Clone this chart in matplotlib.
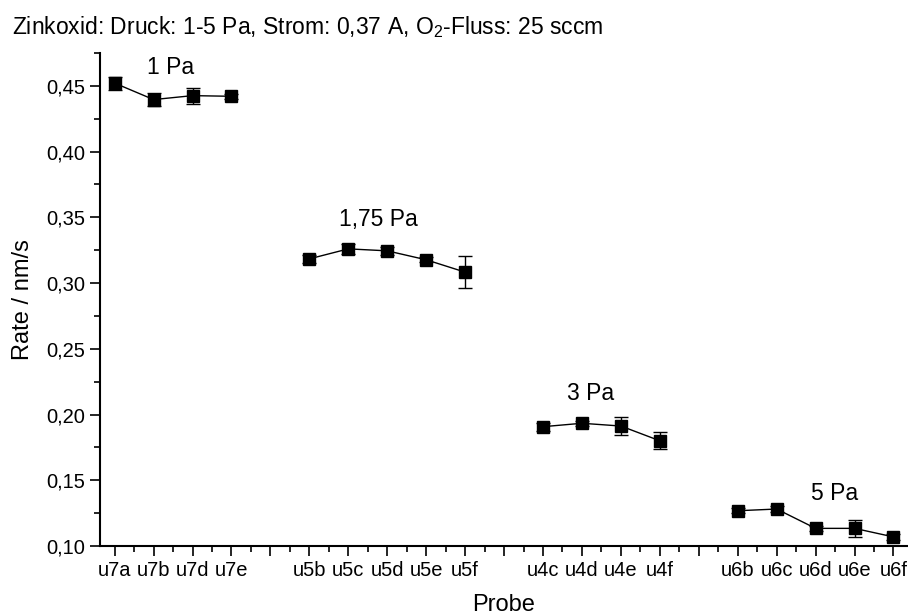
import matplotlib
matplotlib.use("Agg")
import matplotlib.pyplot as plt
from matplotlib.ticker import MultipleLocator, FuncFormatter

plt.rcParams['font.family'] = ['Liberation Sans', 'DejaVu Sans']
plt.rcParams['mathtext.fontset'] = 'custom'
plt.rcParams['mathtext.rm'] = 'Liberation Sans'

# sample names per pressure group (gaps between groups stay unlabeled)
probe_1pa = ["u7a", "u7b", "u7d", "u7e"]
probe_175pa = ["u5b", "u5c", "u5d", "u5e", "u5f"]
probe_3pa = ["u4c", "u4d", "u4e", "u4f"]
probe_5pa = ["u6b", "u6c", "u6d", "u6e", "u6f"]

rate_1pa = [0.452, 0.4395, 0.4425, 0.442]
err_1pa = [0.005, 0.005, 0.006, 0.002]
rate_175pa = [0.3184, 0.326, 0.3245, 0.3177, 0.3083]
err_175pa = [0.003, 0.004, 0.003, 0.002, 0.0119]
rate_3pa = [0.1908, 0.1934, 0.1913, 0.1801]
err_3pa = [0.003, 0.002, 0.0065, 0.0063]
rate_5pa = [0.1269, 0.1282, 0.1135, 0.1135, 0.107]
err_5pa = [0.002, 0.002, 0.002, 0.0067, 0.002]

group_labels = ["1 Pa", "1,75 Pa", "3 Pa", "5 Pa"]

groups = [
    (probe_1pa, rate_1pa, err_1pa),
    (probe_175pa, rate_175pa, err_175pa),
    (probe_3pa, rate_3pa, err_3pa),
    (probe_5pa, rate_5pa, err_5pa),
]

fig = plt.figure(figsize=(9.08, 6.15), dpi=100)
ax = fig.add_axes([0.110, 0.112, 0.889, 0.802])

tick_pos = []
tick_lab = []
pos = 1
label_xy = [(2.44, 0.4638), (7.77, 0.348), (13.23, 0.2164), (19.5, 0.1403)]
for (names, rates, errs), lab, (lx, ly) in zip(groups, group_labels, label_xy):
    xs = list(range(pos, pos + len(names)))
    ax.errorbar(xs, rates, yerr=errs, color='black', marker='s', markersize=8,
                linewidth=1, elinewidth=1, capsize=5, capthick=1)
    ax.text(lx, ly, lab, ha='center', va='center', fontsize=16.5)
    tick_pos += xs
    tick_lab += names
    # empty slot between groups
    tick_pos.append(pos + len(names))
    tick_lab.append("")
    pos += len(names) + 1

ax.set_xticks(tick_pos[:-1])
ax.set_xticklabels(tick_lab[:-1])
ax.xaxis.set_minor_locator(MultipleLocator(0.5))
ax.set_xlim(0.62, 21.35)

ax.set_ylim(0.10, 0.475)
ax.yaxis.set_major_locator(MultipleLocator(0.05))
ax.yaxis.set_minor_locator(MultipleLocator(0.025))
ax.yaxis.set_major_formatter(FuncFormatter(lambda v, p: f"{v:.2f}".replace(".", ",")))

for s in ['top', 'right']:
    ax.spines[s].set_visible(False)
for s in ['left', 'bottom']:
    ax.spines[s].set_linewidth(1.5)

ax.tick_params(which='major', length=7, width=1.2, labelsize=14.5, direction='out')
ax.tick_params(which='minor', length=4, width=1.2, direction='out')

ax.set_xlabel("Probe", fontsize=17, labelpad=10)
ax.set_ylabel("Rate / nm/s", fontsize=17, labelpad=9)

fig.text(0.013, 0.956, "Zinkoxid: Druck: 1-5 Pa, Strom: 0,37 A, O$_2$-Fluss: 25 sccm",
         fontsize=16.5, ha='left', va='center')

fig.savefig("out.png", dpi=100)
